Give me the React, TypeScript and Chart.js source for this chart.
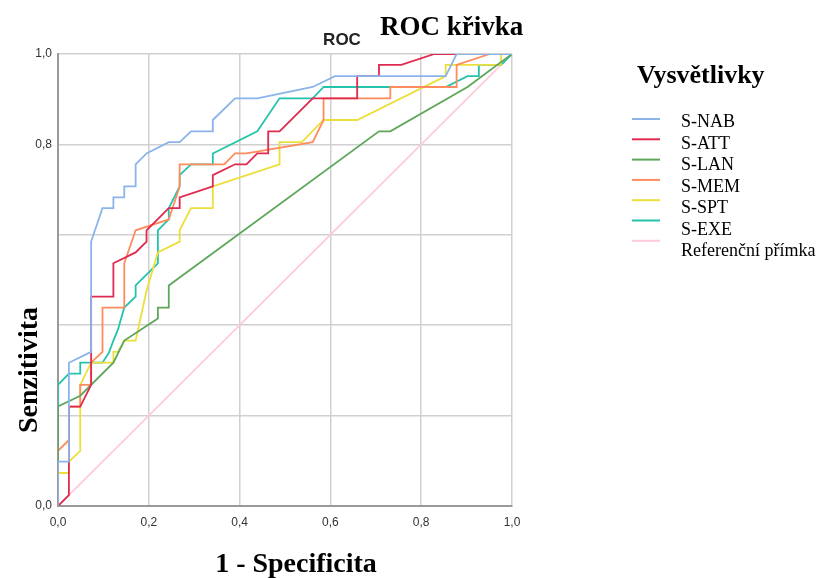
import React, { useEffect, useRef } from "react";
import { Chart, registerables } from "chart.js";

Chart.register(...registerables);

// ---- data ----
const SERIES_NAMES = ["S-NAB", "S-ATT", "S-LAN", "S-MEM", "S-SPT", "S-EXE", "Referenční přímka"];
const SERIES_COLORS = ["#8ab4ea", "#e02a50", "#5ea65a", "#ff8c5e", "#ecdf3c", "#25c3ac", "#ffcadb"];

const S_NAB: [number, number][] = [
  [0, 0], [0, 0.098], [0.024, 0.098], [0.024, 0.317], [0.073, 0.341], [0.073, 0.585],
  [0.098, 0.659], [0.122, 0.659], [0.122, 0.683], [0.146, 0.683], [0.146, 0.707],
  [0.171, 0.707], [0.171, 0.756], [0.195, 0.78], [0.244, 0.805], [0.268, 0.805],
  [0.293, 0.829], [0.341, 0.829], [0.341, 0.854], [0.39, 0.902], [0.439, 0.902],
  [0.561, 0.927], [0.61, 0.951], [0.854, 0.951], [0.878, 1], [1, 1],
];
const S_ATT: [number, number][] = [
  [0, 0], [0.024, 0.024], [0.024, 0.22], [0.049, 0.22], [0.073, 0.268], [0.073, 0.463],
  [0.122, 0.463], [0.122, 0.537], [0.171, 0.561], [0.195, 0.585], [0.195, 0.61],
  [0.244, 0.659], [0.268, 0.659], [0.268, 0.683], [0.341, 0.707], [0.341, 0.732],
  [0.39, 0.756], [0.415, 0.756], [0.439, 0.78], [0.463, 0.78], [0.463, 0.829],
  [0.488, 0.829], [0.561, 0.902], [0.659, 0.902], [0.659, 0.951], [0.707, 0.951],
  [0.707, 0.976], [0.756, 0.976], [0.829, 1], [1, 1],
];
const S_LAN: [number, number][] = [
  [0, 0], [0, 0.22], [0.049, 0.244], [0.122, 0.317], [0.146, 0.366], [0.22, 0.415],
  [0.22, 0.439], [0.244, 0.439], [0.244, 0.488], [0.707, 0.829], [0.732, 0.829],
  [0.902, 0.927], [1, 1],
];
const S_MEM: [number, number][] = [
  [0, 0], [0, 0.122], [0.024, 0.146], [0.024, 0.22], [0.049, 0.22], [0.049, 0.268],
  [0.073, 0.268], [0.073, 0.317], [0.098, 0.341], [0.098, 0.439], [0.146, 0.439],
  [0.146, 0.537], [0.171, 0.61], [0.244, 0.634], [0.268, 0.707], [0.268, 0.756],
  [0.366, 0.756], [0.39, 0.78], [0.415, 0.78], [0.561, 0.805], [0.585, 0.854],
  [0.585, 0.902], [0.732, 0.902], [0.732, 0.927], [0.878, 0.927], [0.878, 0.976],
  [0.951, 1], [1, 1],
];
const S_SPT: [number, number][] = [
  [0, 0], [0, 0.073], [0.024, 0.073], [0.024, 0.098], [0.049, 0.122], [0.049, 0.268],
  [0.073, 0.317], [0.122, 0.317], [0.122, 0.341], [0.132, 0.341], [0.146, 0.366],
  [0.171, 0.366], [0.195, 0.476], [0.22, 0.561], [0.268, 0.585], [0.268, 0.61],
  [0.293, 0.659], [0.341, 0.659], [0.341, 0.707], [0.488, 0.756], [0.488, 0.805],
  [0.537, 0.805], [0.585, 0.854], [0.659, 0.854], [0.854, 0.951], [0.854, 0.976],
  [0.976, 0.976], [0.976, 1], [1, 1],
];
const S_EXE: [number, number][] = [
  [0, 0], [0, 0.268], [0.024, 0.293], [0.049, 0.293], [0.049, 0.317], [0.098, 0.317],
  [0.112, 0.339], [0.122, 0.366], [0.132, 0.39], [0.146, 0.439], [0.171, 0.463],
  [0.171, 0.488], [0.22, 0.537], [0.22, 0.61], [0.244, 0.634], [0.244, 0.659],
  [0.268, 0.707], [0.268, 0.732], [0.293, 0.756], [0.341, 0.756], [0.341, 0.78],
  [0.439, 0.829], [0.488, 0.902], [0.561, 0.902], [0.585, 0.927], [0.854, 0.927],
  [0.902, 0.951], [0.927, 0.951], [0.927, 0.976], [0.976, 0.976], [1, 1],
];
const REFERENCE: [number, number][] = [[0, 0], [1, 1]];

const SERIES_DATA = [S_NAB, S_ATT, S_LAN, S_MEM, S_SPT, S_EXE, REFERENCE];

const X_TICK_LABELS = ["0,0", "0,2", "0,4", "0,6", "0,8", "1,0"];
const Y_TICK_LABELS = ["0,0", "", "", "", "0,8", "1,0"];

const CHART_TITLE = "ROC křivka";
const INNER_TITLE = "ROC";
const X_TITLE = "1 - Specificita";
const Y_TITLE = "Senzitivita";
const LEGEND_TITLE = "Vysvětlivky";

const SERIF = '"Liberation Serif", "Times New Roman", serif';
const SANS = '"Liberation Sans", Arial, sans-serif';

const textPlugin = {
  id: "textPlugin",
  afterDraw(chart: any) {
    const ctx = chart.ctx as CanvasRenderingContext2D;
    ctx.save();
    ctx.fillStyle = "#000";
    ctx.textBaseline = "alphabetic";

    // main title
    ctx.font = `bold 27px ${SERIF}`;
    ctx.textAlign = "left";
    ctx.fillText(CHART_TITLE, 380, 35);

    // inner title
    ctx.font = `bold 17px ${SANS}`;
    ctx.fillStyle = "#222";
    ctx.textAlign = "center";
    ctx.fillText(INNER_TITLE, 342, 45);

    // x title
    ctx.fillStyle = "#000";
    ctx.font = `bold 28px ${SERIF}`;
    ctx.textAlign = "center";
    ctx.fillText(X_TITLE, 296, 572);

    // y title
    ctx.save();
    ctx.translate(37, 370);
    ctx.rotate(-Math.PI / 2);
    ctx.textAlign = "center";
    ctx.fillText(Y_TITLE, 0, 0);
    ctx.restore();

    // legend
    ctx.font = `bold 26px ${SERIF}`;
    ctx.textAlign = "left";
    ctx.fillText(LEGEND_TITLE, 637, 83);

    ctx.font = `18px ${SERIF}`;
    SERIES_NAMES.forEach((name, i) => {
      ctx.fillStyle = "#000";
      ctx.fillText(name, 681, 127 + i * 21.5);
      ctx.strokeStyle = SERIES_COLORS[i];
      ctx.lineWidth = 2;
      ctx.beginPath();
      const y = 119 + i * 20.3;
      ctx.moveTo(632, y);
      ctx.lineTo(660, y);
      ctx.stroke();
    });
    ctx.restore();
  },
};

export default function App() {
  const canvasRef = useRef<HTMLCanvasElement | null>(null);

  useEffect(() => {
    if (!canvasRef.current) return;
    const datasets = SERIES_NAMES.map((name, i) => ({
      label: name,
      data: SERIES_DATA[i].map(([x, y]) => ({ x, y })),
      borderColor: SERIES_COLORS[i],
      backgroundColor: SERIES_COLORS[i],
      borderWidth: 1.8,
      pointRadius: 0,
      showLine: true,
      tension: 0,
      fill: false,
    }));

    const chart = new Chart(canvasRef.current, {
      type: "scatter",
      data: { datasets },
      options: {
        responsive: false,
        animation: false,
        devicePixelRatio: 1,
        layout: { padding: { top: 54, right: 307, left: 0, bottom: 0 } },
        plugins: {
          legend: { display: false },
          title: { display: false },
          tooltip: { enabled: false },
        },
        scales: {
          x: {
            type: "linear",
            min: 0,
            max: 1,
            afterFit: (s: any) => {
              s.height = 72;
            },
            ticks: {
              stepSize: 0.2,
              padding: 9,
              color: "#333",
              font: { family: SANS, size: 12 },
              callback: (_v: any, i: number) => X_TICK_LABELS[i],
            },
            grid: { color: "#d0d0d0", lineWidth: 1.5, drawTicks: false },
            border: { color: "#9a9a9a", width: 2 },
          },
          y: {
            type: "linear",
            min: 0,
            max: 1,
            afterFit: (s: any) => {
              s.width = 58;
            },
            ticks: {
              stepSize: 0.2,
              padding: 6,
              color: "#333",
              font: { family: SANS, size: 12 },
              callback: (_v: any, i: number) => Y_TICK_LABELS[i],
            },
            grid: { color: "#d0d0d0", lineWidth: 1.5, drawTicks: false },
            border: { color: "#9a9a9a", width: 2 },
          },
        },
      },
      plugins: [textPlugin],
    });
    return () => chart.destroy();
  }, []);

  return (
    <div style={{ position: "absolute", left: 0, top: 0, width: 819, height: 578, background: "#fff" }}>
      <canvas ref={canvasRef} width={819} height={578} />
    </div>
  );
}
